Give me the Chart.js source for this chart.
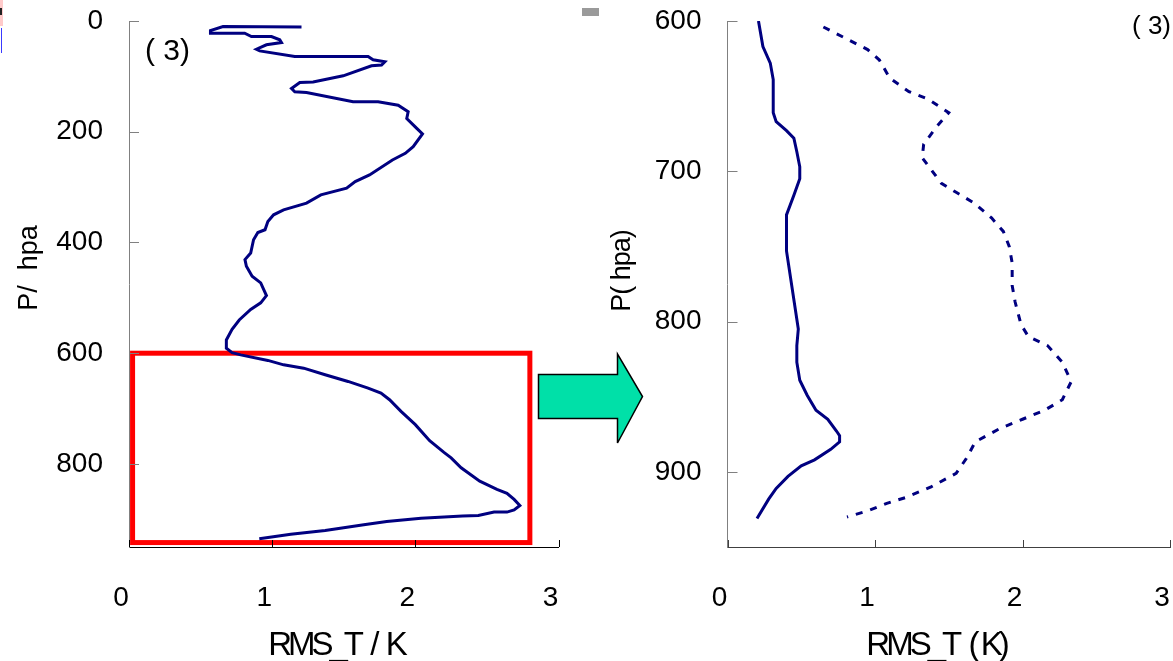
<!DOCTYPE html>
<html>
<head>
  <meta charset="utf-8">
  <title>RMS_T profile</title>
  <script src="https://cdn.jsdelivr.net/npm/chart.js"></script>
  <style>
    body { margin: 0; background: #fff; width: 1173px; height: 661px; overflow: hidden; position: relative; }
    .box { position: absolute; top: 0; }
    .bit { position: absolute; }
    #arrow { position: absolute; left: 0; top: 0; pointer-events: none; }
  </style>
</head>
<body>
  <div class="box" style="left:0px"><canvas id="leftChart" width="590" height="661"></canvas></div>
  <div class="box" style="left:590px"><canvas id="rightChart" width="583" height="661"></canvas></div>
  <!-- small leftovers from the cropped original -->
  <div class="bit" style="left:0;top:0;width:3px;height:26px;background:#ffcaca"></div>
  <div class="bit" style="left:0;top:8px;width:2px;height:7px;background:#222"></div>
  <div class="bit" style="left:1px;top:28px;width:1px;height:25px;background:#3a3aff"></div>
  <div class="bit" style="left:582px;top:8px;width:17px;height:8px;background:#9a9a9a"></div>
  <svg id="arrow" width="1173" height="661">
    <polygon points="538.5,374.5 617.5,374.5 617.5,354 642.5,396.5 617.5,443 617.5,418.5 538.5,418.5"
             fill="#00e0a8" stroke="#000" stroke-width="1.5" stroke-linejoin="miter"/>
  </svg>

  <script>
    // tick values
    var xTicks = [0, 1, 2, 3];
    var leftPTicks = [0, 200, 400, 600, 800];
    var rightPTicks = [600, 700, 800, 900];

    // whole profile (left panel)
    var fullP = [11, 10, 17.5, 22, 22, 28, 28, 34, 39, 43, 51, 54, 64, 64, 70, 73.5, 79.5, 81, 99, 110, 111, 122, 128, 129,
      146, 146, 152, 164, 176, 194, 204, 227, 239, 251, 278, 290, 302, 314, 329, 341, 350, 362, 377, 382, 395, 419,
      431, 443, 461, 473, 496, 509, 521, 540, 557, 576, 591, 599, 603, 613, 621, 627, 639, 651, 663, 672, 684, 705,
      729, 758, 779, 789, 807, 831, 846, 853, 864, 875, 883, 887, 887, 893, 894, 898, 904, 910, 920, 927, 935];
    var fullRms = [1.205, 0.657, 0.569, 0.569, 0.808, 0.855, 0.995, 1.053, 1.065, 0.96, 0.89, 0.913, 1.158, 1.67, 1.705,
      1.787, 1.764, 1.694, 1.496, 1.286, 1.193, 1.135, 1.158, 1.24, 1.565, 1.74, 1.88, 1.95, 1.94, 2.01, 2.05, 1.985,
      1.93, 1.84, 1.68, 1.58, 1.52, 1.34, 1.24, 1.08, 1.01, 0.97, 0.95, 0.90, 0.87, 0.85, 0.81, 0.82, 0.86, 0.92, 0.96,
      0.92, 0.85, 0.77, 0.72, 0.68, 0.68, 0.72, 0.78, 0.97, 1.08, 1.22, 1.37, 1.53, 1.67, 1.76, 1.82, 1.90, 2.00, 2.10,
      2.20, 2.25, 2.32, 2.45, 2.57, 2.64, 2.69, 2.73, 2.69, 2.64, 2.55, 2.44, 2.33, 2.04, 1.80, 1.64, 1.37, 1.13, 0.91];

    // lower layer, solid curve (right panel)
    var solidP = [600, 617, 628, 639, 661, 667, 673, 678, 687, 697, 705, 716, 729, 753, 805, 816, 827, 839, 849, 859,
      865, 873, 876, 880, 885, 892, 896, 903, 911, 918, 931];
    var solidRms = [0.21, 0.24, 0.29, 0.31, 0.31, 0.33, 0.40, 0.45, 0.47, 0.49, 0.49, 0.45, 0.40, 0.40, 0.48, 0.47, 0.47,
      0.49, 0.54, 0.60, 0.68, 0.74, 0.76, 0.76, 0.70, 0.59, 0.50, 0.41, 0.33, 0.28, 0.20];

    // lower layer, dashed curve (right panel)
    var dashP = [604, 611, 619, 626, 638, 647, 652, 661, 670, 682, 691, 708, 714, 721, 731, 740, 750, 761, 776, 787,
      802, 810, 816, 827, 840, 852, 859, 865, 871, 880, 891, 901, 910, 917, 921, 926, 930];
    var dashRms = [0.65, 0.79, 0.95, 1.03, 1.10, 1.23, 1.36, 1.50, 1.42, 1.33, 1.32, 1.45, 1.55, 1.67, 1.79, 1.87, 1.91,
      1.93, 1.93, 1.95, 1.99, 2.04, 2.17, 2.27, 2.33, 2.27, 2.15, 2.00, 1.85, 1.68, 1.62, 1.55, 1.38, 1.21, 1.08, 0.95, 0.81];

    // red frame marking the zoomed layer (data units)
    var frameRms = [0.025, 2.8];
    var frameP = [600, 942];

    function pts(xs, ys) {
      return xs.map(function (v, i) { return { x: v, y: ys[i] }; });
    }

    Chart.defaults.font.family = "'Liberation Sans', Arial, sans-serif";
    Chart.defaults.color = '#000';

    var decor = {
      id: 'decor',
      beforeDatasetsDraw: function (chart, args, o) {
        if (!o.frame) return;
        var ctx = chart.ctx, x = chart.scales.x, y = chart.scales.y;
        var l = x.getPixelForValue(frameRms[0]), r = x.getPixelForValue(frameRms[1]);
        var t = y.getPixelForValue(frameP[0]), b = y.getPixelForValue(frameP[1]);
        ctx.save();
        ctx.strokeStyle = '#ff0000';
        ctx.lineWidth = 5;
        ctx.strokeRect(l, t, r - l, b - t);
        ctx.restore();
      },
      afterDraw: function (chart, args, o) {
        var ctx = chart.ctx, ca = chart.chartArea, x = chart.scales.x, y = chart.scales.y;
        ctx.save();
        // ticks point into the plot
        ctx.lineWidth = 1;
        ctx.strokeStyle = o.yColor;
        y.ticks.forEach(function (t) {
          var py = Math.round(y.getPixelForValue(t.value)) + 0.5;
          ctx.beginPath(); ctx.moveTo(ca.left, py); ctx.lineTo(ca.left + 10, py); ctx.stroke();
        });
        ctx.strokeStyle = o.xColor;
        x.ticks.forEach(function (t) {
          var px = Math.round(x.getPixelForValue(t.value)) + 0.5;
          ctx.beginPath(); ctx.moveTo(px, ca.bottom); ctx.lineTo(px, ca.bottom - 7); ctx.stroke();
        });

        ctx.fillStyle = '#000';
        ctx.textBaseline = 'alphabetic';
        // x title (condensed like the original)
        ctx.font = "33px 'Liberation Sans', Arial, sans-serif";
        ctx.letterSpacing = o.xSpacing;
        ctx.textAlign = 'center';
        ctx.fillText(o.xTitle, o.xTitleAt[0], o.xTitleAt[1]);
        // y title
        ctx.font = "27px 'Liberation Sans', Arial, sans-serif";
        ctx.letterSpacing = o.ySpacing;
        ctx.save();
        ctx.translate(o.yTitleAt[0], o.yTitleAt[1]);
        ctx.rotate(-Math.PI / 2);
        ctx.fillText(o.yTitle, 0, 0);
        ctx.restore();
        // panel tag
        ctx.letterSpacing = '0px';
        ctx.textAlign = 'left';
        ctx.font = o.tagFont;
        ctx.fillText('( 3)', o.tagAt[0], o.tagAt[1]);
        ctx.restore();
      }
    };

    function makeChart(id, cfg) {
      return new Chart(document.getElementById(id), {
        type: 'scatter',
        data: { datasets: cfg.datasets },
        options: {
          responsive: false,
          animation: false,
          layout: { padding: cfg.padding },
          plugins: {
            legend: { display: false },
            tooltip: { enabled: false },
            decor: cfg.decor
          },
          scales: {
            x: {
              type: 'linear', min: 0, max: 3,
              grid: { display: false, drawTicks: false },
              border: { display: true, color: cfg.decor.xColor, width: 1 },
              afterBuildTicks: function (s) { s.ticks = xTicks.map(function (v) { return { value: v }; }); },
              afterFit: function (s) { s.height = 114; s.paddingLeft = 0; s.paddingRight = 0; },
              ticks: { font: { size: 28 }, padding: 34, labelOffset: -8, maxRotation: 0, color: '#000' }
            },
            y: {
              type: 'linear', reverse: true, min: cfg.yMin, max: 950,
              grid: { display: false, drawTicks: false },
              border: { display: true, color: '#808080', width: 1 },
              afterBuildTicks: function (s) { s.ticks = cfg.yTicks.map(function (v) { return { value: v }; }); },
              afterFit: function (s) { s.width = cfg.yWidth; s.paddingTop = 0; s.paddingBottom = 0; },
              ticks: { font: { size: 28 }, padding: 26, color: '#000' }
            }
          }
        },
        plugins: [decor]
      });
    }

    var lineStyle = { borderColor: '#000080', borderWidth: 3, pointRadius: 0, showLine: true, tension: 0, fill: false };

    makeChart('leftChart', {
      datasets: [Object.assign({ label: 'RMS_T', data: pts(fullRms, fullP) }, lineStyle)],
      yMin: 0, yTicks: leftPTicks, yWidth: 129,
      padding: { top: 21, right: 31.5, bottom: 0, left: 0 },
      decor: {
        frame: true, xColor: '#000', yColor: '#808080',
        xTitle: 'RMS_T  /  K', xTitleAt: [336, 655], xSpacing: '-4px',
        yTitle: 'P/  hpa', yTitleAt: [37, 268], ySpacing: '0px',
        tagFont: "30px 'Liberation Sans', Arial, sans-serif", tagAt: [145, 60]
      }
    });

    makeChart('rightChart', {
      datasets: [
        Object.assign({ label: 'solid', data: pts(solidRms, solidP) }, lineStyle),
        Object.assign({ label: 'dashed', data: pts(dashRms, dashP), borderDash: [7, 8] }, lineStyle)
      ],
      yMin: 600, yTicks: rightPTicks, yWidth: 137.5,
      padding: { top: 21, right: 3, bottom: 0, left: 0 },
      decor: {
        frame: false, xColor: '#404040', yColor: '#808080',
        xTitle: 'RMS_T  ( K)', xTitleAt: [346, 655], xSpacing: '-4px',
        yTitle: 'P( hpa)', yTitleAt: [40, 271], ySpacing: '-1px',
        tagFont: "26px 'Liberation Sans', Arial, sans-serif", tagAt: [542, 34]
      }
    });
  </script>
</body>
</html>
